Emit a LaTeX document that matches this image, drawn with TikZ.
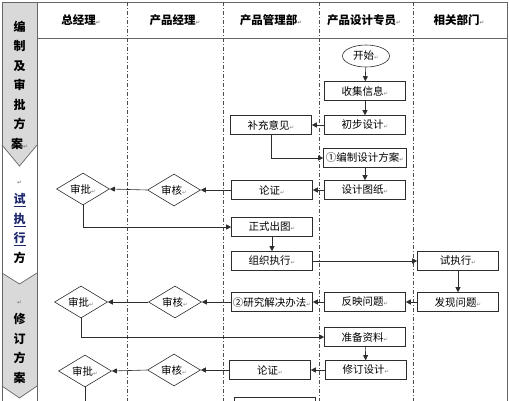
\documentclass[tikz,border=0pt]{standalone}
\usepackage{fontspec}
\setmainfont{Noto Sans CJK SC}
\newfontfamily\symfont{DejaVu Sans}
\usepackage{xcolor}
\usetikzlibrary{positioning,arrows.meta,shapes.geometric}
\definecolor{stagegray}{RGB}{217,217,217}
\definecolor{lineblk}{RGB}{45,45,45}
\definecolor{linkblue}{RGB}{30,40,110}
\newcommand\pmark{{\symfont\fontsize{5.5}{6}\selectfont\textcolor{gray}{↵}}}
\tikzset{
  frame/.style={draw=gray!80!black, line width=0.7pt},
  lane/.style={draw=gray!60!black, line width=0.6pt, dash pattern=on 4pt off 2pt on 1pt off 2pt},
  stepbox/.style={draw=lineblk, line width=0.6pt, minimum width=81pt, minimum height=19pt,
                  inner sep=1pt, font=\fontsize{10.5}{12}\selectfont},
  check/.style={diamond, draw=lineblk, line width=0.6pt, aspect=1.65, minimum width=53pt,
                minimum height=32pt, inner sep=0pt, font=\fontsize{10.5}{12}\selectfont},
  startnode/.style={ellipse, draw=lineblk, line width=0.6pt, minimum width=47pt, minimum height=22pt,
                    inner sep=0pt, font=\fontsize{10.5}{12}\selectfont},
  flow/.style={-{Triangle[length=5pt,width=5pt]}, line width=0.6pt, lineblk},
  head/.style={font=\bfseries\fontsize{11.5}{12}\selectfont},
  stagetxt/.style={align=center, font=\bfseries\fontsize{12}{19.5}\selectfont}
}

\begin{document}
\begin{tikzpicture}[x=1pt, y=-1pt]
    \useasboundingbox (0,0) rectangle (509,400);
    \clip (0,0) rectangle (509,400);
    % stage column
    \fill[stagegray] (2,2) -- (37,2) -- (37,145) -- (19.5,166) -- (2,145) -- cycle;
    \fill[stagegray] (2,273) -- (19.5,284) -- (37,273) -- (37,386) -- (19.5,398) -- (2,386) -- cycle;
    \draw[frame] (2,145) -- (19.5,166) -- (37,145);
    \draw[frame] (2,273) -- (19.5,284) -- (37,273);
    \draw[frame] (2,386) -- (19.5,398) -- (37,386);
    \node[stagetxt] (stage1) at (19.5,85) {编\\制\\及\\审\\批\\方\\案\pmark};
    \node[stagetxt] (stage2) at (19.5,222) {\pmark\\
      \textcolor{linkblue}{\underline{试}}\\\textcolor{linkblue}{\underline{执}}\\
      \textcolor{linkblue}{\underline{行}}\\方};
    \begin{scope}
      \clip (2,273) -- (19.5,284) -- (37,273) -- (37,386) -- (19.5,398) -- (2,386) -- cycle;
      \node[stagetxt] (stage3) at (19.5,342) {\pmark\\修\\订\\方\\案};
    \end{scope}
    % frame and lanes
    \draw[frame] (2,2) rectangle (507,405);
    \draw[frame] (37,2) -- (37,405);
    \draw[frame] (37,38) -- (507,38);
    \foreach \x in {127,223,319,413}
      \draw[lane] (\x,2) -- (\x,405);
    % headers
    \node[head] (hgm) at (81,20) {总经理\pmark};
    \node[head] (hpm) at (175,20) {产品经理\pmark};
    \node[head] (hdept) at (271,20) {产品管理部\pmark};
    \node[head] (hdes) at (364,20) {产品设计专员\pmark};
    \node[head] (hrel) at (459,20) {相关部门\pmark};
    % stage 1
    \node[startnode] (start) at (366,56) {开始\pmark};
    \node[stepbox] (collect) at (365,91) {收集信息\pmark};
    \node[stepbox] (prelim) at (365,125) {初步设计\pmark};
    \node[stepbox] (supp) at (271,125) {补充意见\pmark};
    \node[stepbox, minimum width=83pt] (plan) at (365,158) {①编制设计方案\pmark};
    \node[stepbox] (drawing) at (365,190) {设计图纸\pmark};
    \node[stepbox] (argue1) at (272,190) {论证\pmark};
    \node[check] (check1) at (174,190) {审核\pmark};
    \node[check] (approve1) at (83,189) {审批\pmark};
    % stage 2
    \node[stepbox] (formal) at (272,227) {正式出图\pmark};
    \node[stepbox] (organize) at (272,261) {组织执行\pmark};
    \node[stepbox] (trial) at (458,261) {试执行\pmark};
    \node[stepbox] (findprob) at (458,302) {发现问题\pmark};
    \node[stepbox] (report) at (365,302) {反映问题\pmark};
    \node[stepbox] (solve) at (272,302) {②研究解决办法\pmark};
    \node[check] (check2) at (175,302) {审核\pmark};
    \node[check] (approve2) at (81,302) {审批\pmark};
    % stage 3
    \node[stepbox] (prepare) at (365,337) {准备资料\pmark};
    \node[stepbox] (revise) at (366,370) {修订设计\pmark};
    \node[stepbox] (argue2) at (270,370) {论证\pmark};
    \node[check] (check3) at (174,370) {审核\pmark};
    \node[check] (approve3) at (85,371) {审批\pmark};
    \node[stepbox] (nextbox) at (275,407) {};
    \coordinate (cutoff) at (85,410);
    % connectors
    \draw[flow] (start) -- (collect);
    \draw[flow] (collect) -- (prelim);
    \draw[flow] (prelim) -- (supp);
    \draw[flow] (supp.south) |- (plan.west);
    \draw[flow] (plan) -- (drawing);
    \draw[flow] (drawing) -- (argue1);
    \draw[flow] (argue1.west) -- (check1.east);
    \draw[flow] (check1.west) -- (approve1.east);
    \draw[flow] (approve1.south) |- (formal.west);
    \draw[flow] (formal) -- (organize);
    \draw[flow] (organize) -- (trial);
    \draw[flow] (trial) -- (findprob);
    \draw[flow] (findprob) -- (report);
    \draw[flow] (report) -- (solve);
    \draw[flow] (solve.west) -- (check2.east);
    \draw[flow] (check2.west) -- (approve2.east);
    \draw[flow] (approve2.south) |- (prepare.west);
    \draw[flow] (prepare) -- (revise);
    \draw[flow] (revise) -- (argue2);
    \draw[flow] (argue2.west) -- (check3.east);
    \draw[flow] (check3.west) -- (approve3.east);
    \draw[line width=0.6pt, lineblk] (approve3.south) -- (cutoff);
\end{tikzpicture}
\end{document}
